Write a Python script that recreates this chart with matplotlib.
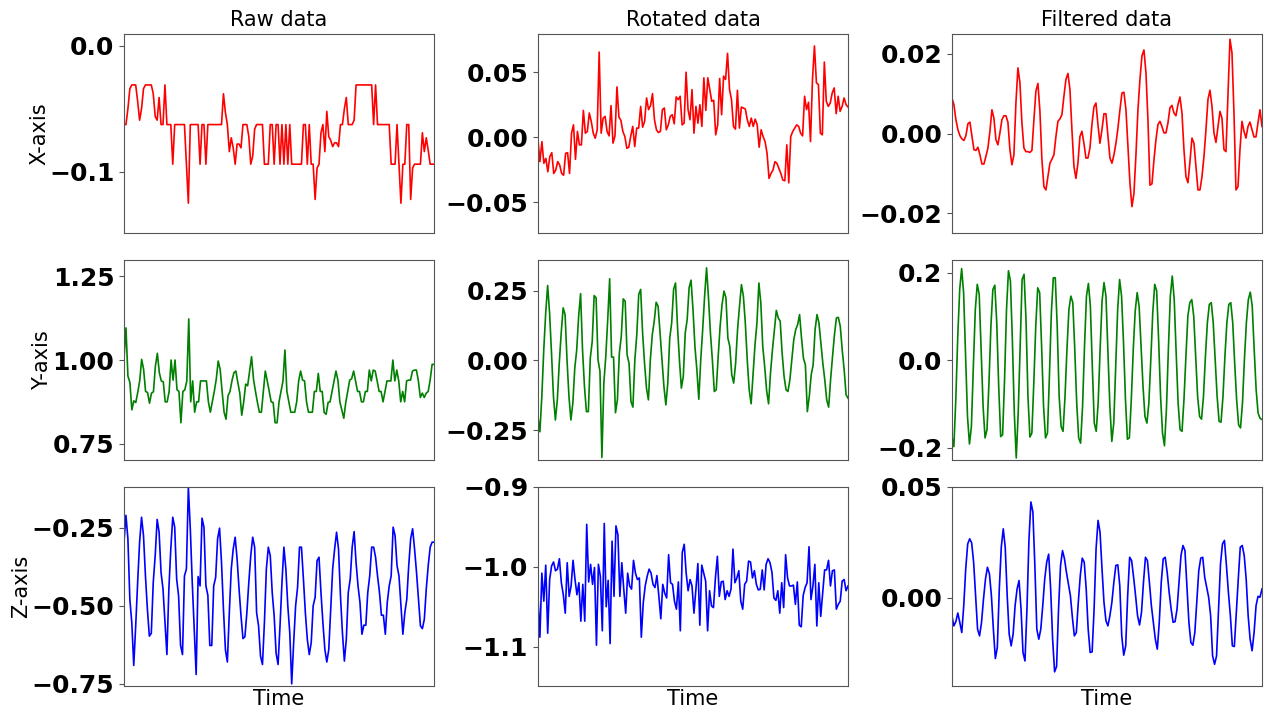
import matplotlib
matplotlib.use('Agg')
import matplotlib.pyplot as plt
import numpy as np

col_titles = ["Raw data", "Rotated data", "Filtered data"]
row_labels = ["X-axis", "Y-axis", "Z-axis"]
line_colors = ["red", "green", "blue"]

raw_x = [-0.0625, -0.0625, -0.05, -0.034, -0.031, -0.031, -0.031, -0.044, -0.059, -0.05,
         -0.034, -0.031, -0.031, -0.031, -0.031, -0.038, -0.056, -0.059, -0.041, -0.0625,
         -0.0625, -0.031, -0.0625, -0.0625, -0.0625, -0.094, -0.0625, -0.0625, -0.0625, -0.0625,
         -0.0625, -0.0625, -0.094, -0.125, -0.0625, -0.0625, -0.0625, -0.0625, -0.0625, -0.094,
         -0.0625, -0.0625, -0.094, -0.0625, -0.0625, -0.0625, -0.0625, -0.0625, -0.0625, -0.0625,
         -0.0625, -0.038, -0.053, -0.0625, -0.084, -0.073, -0.081, -0.094, -0.078, -0.078,
         -0.081, -0.0625, -0.0625, -0.0625, -0.072, -0.094, -0.0875, -0.066, -0.0625, -0.0625,
         -0.0625, -0.0625, -0.094, -0.094, -0.094, -0.0625, -0.0625, -0.094, -0.0625, -0.0625,
         -0.094, -0.0625, -0.094, -0.0625, -0.094, -0.0625, -0.094, -0.094, -0.094, -0.094,
         -0.094, -0.094, -0.0625, -0.0625, -0.094, -0.0625, -0.094, -0.094, -0.122, -0.097,
         -0.094, -0.069, -0.0625, -0.084, -0.052, -0.072, -0.075, -0.08, -0.077, -0.077,
         -0.08, -0.0625, -0.0625, -0.05, -0.041, -0.0625, -0.0625, -0.0625, -0.059, -0.031,
         -0.031, -0.031, -0.031, -0.031, -0.031, -0.031, -0.031, -0.031, -0.0625, -0.031,
         -0.0625, -0.0625, -0.0625, -0.0625, -0.0625, -0.0625, -0.0625, -0.094, -0.094, -0.094,
         -0.0625, -0.094, -0.125, -0.094, -0.094, -0.0625, -0.0625, -0.122, -0.097, -0.094,
         -0.094, -0.094, -0.094, -0.069, -0.084, -0.073, -0.083, -0.094, -0.094, -0.094]

rot_x = [-0.002, -0.0188, -0.0034, -0.0201, -0.0163, -0.0266, -0.015, -0.0119, -0.0279, -0.0253,
         -0.0188, -0.0214, -0.0279, -0.0292, -0.0124, -0.0119, -0.0279, 0.0031, 0.0095, -0.017,
         0.0044, -0.0059, -0.0059, 0.0206, 0.0031, 0.0044, 0.0186, 0.0121, 0.0031, -0.0008,
         0.0057, 0.0655, 0.0031, 0.0147, 0.016, 0.0044, 0.001, 0.0243, -0.0046, 0.001,
         0.0387, 0.0155, 0.0129, 0.0044, 0.0005, -0.0085, -0.0077, 0.001, 0.0083, -0.0072,
         0.007, 0.007, 0.0237, 0.0077, 0.0121, 0.0302, 0.0212, 0.0243, 0.0335, 0.0134,
         0.0057, 0.0036, 0.0044, 0.0212, 0.0224, 0.0057, 0.0095, 0.016, 0.0173, 0.0103,
         0.031, 0.0289, 0.0315, 0.0095, 0.0108, 0.05, 0.0212, 0.0134, 0.0366, 0.0031,
         0.0237, 0.0108, 0.025, 0.0083, 0.0457, 0.0206, 0.0457, 0.0366, 0.0276, 0.0284,
         0.0018, 0.0095, 0.0452, 0.0173, 0.047, 0.0444, 0.0645, 0.0366, 0.0289, 0.0083,
         0.0062, 0.0361, 0.007, 0.0232, 0.0224, 0.0217, 0.0134, 0.0083, 0.0147, 0.0083,
         0.0139, 0.0095, -0.0077, 0.0057, 0.0005, -0.0034, -0.0124, -0.0317, -0.0279, -0.0253,
         -0.0188, -0.0201, -0.024, -0.0279, -0.033, -0.0335, -0.0059, -0.0351, 0.0005, 0.0044,
         0.007, 0.0095, 0.0083, 0.0031, 0.001, 0.0315, 0.0212, 0.0268, -0.0034, 0.0444,
         0.0702, 0.0418, 0.0405, 0.0031, 0.0018, 0.0578, 0.0276, 0.0237, 0.0263, 0.0341,
         0.0379, 0.0181, 0.0315, 0.0199, 0.0237, 0.0302, 0.025, 0.0232]

filt_x = [0.0090, 0.0073, 0.0035, 0.0010, -0.0005, -0.0013, -0.0017, -0.0005, 0.0025, 0.0029,
          -0.0005, -0.0040, -0.0042, -0.0034, -0.0053, -0.0076, -0.0076, -0.0057, -0.0036, 0.0006,
          0.0060, 0.0039, -0.0015, -0.0028, 0.0002, 0.0035, 0.0045, 0.0045, 0.0029, -0.0040,
          -0.0078, -0.0053, 0.0077, 0.0165, 0.0128, 0.0027, -0.0036, -0.0045, -0.0045, -0.0047,
          -0.0042, 0.0035, 0.0107, 0.0126, 0.0056, -0.0066, -0.0133, -0.0141, -0.0108, -0.0074,
          -0.0064, -0.0053, -0.0007, 0.0031, 0.0037, 0.0048, 0.0094, 0.0136, 0.0151, 0.0111,
          0.0010, -0.0082, -0.0112, -0.0074, -0.0007, 0.0006, -0.0024, -0.0061, -0.0061, -0.0036,
          0.0023, 0.0067, 0.0077, 0.0023, -0.0024, 0.0010, 0.0050, 0.0050, -0.0007, -0.0061,
          -0.0074, -0.0053, -0.0024, 0.0014, 0.0060, 0.0102, 0.0104, 0.0060, -0.0032, -0.0124,
          -0.0183, -0.0150, -0.0053, 0.0060, 0.0136, 0.0195, 0.0210, 0.0153, 0.0035, -0.0129,
          -0.0126, -0.0066, -0.0015, 0.0023, 0.0031, 0.0018, 0.0002, 0.0002, 0.0027, 0.0065,
          0.0071, 0.0052, 0.0045, 0.0073, 0.0092, 0.0052, -0.0040, -0.0108, -0.0123, -0.0070,
          -0.0011, -0.0024, -0.0082, -0.0141, -0.0141, -0.0108, -0.0057, 0.0010, 0.0086, 0.0109,
          0.0069, 0.0002, -0.0022, 0.0018, 0.0056, 0.0039, -0.0040, -0.0045, 0.0094, 0.0237,
          0.0203, 0.0052, -0.0141, -0.0133, -0.0040, 0.0031, 0.0006, -0.0011, 0.0018, 0.0029,
          0.0010, -0.0008, -0.0008, 0.0027, 0.0060, 0.0018]

raw_y = [1.002, 1.096, 0.952, 0.933, 0.851, 0.878, 0.873, 0.903, 0.9375, 1.002,
         0.972, 0.906, 0.903, 0.871, 0.901, 0.905, 0.982, 1.020, 0.962, 0.9375,
         0.935, 0.875, 0.875, 0.906, 1.0, 0.940, 1.0, 0.911, 0.906, 0.8125,
         0.906, 0.911, 0.9375, 1.123, 0.875, 0.9375, 0.844, 0.875, 0.875, 0.9375,
         0.9375, 0.9375, 0.9375, 0.875, 0.844, 0.875, 0.906, 0.942, 0.997, 0.972,
         0.906, 0.844, 0.823, 0.893, 0.906, 0.9375, 0.962, 0.967, 0.933, 0.901,
         0.835, 0.875, 0.928, 0.923, 0.967, 1.010, 0.942, 0.906, 0.873, 0.844,
         0.844, 0.906, 0.967, 0.9375, 0.906, 0.875, 0.873, 0.8125, 0.8125, 0.875,
         0.906, 0.9375, 1.030, 0.906, 0.875, 0.844, 0.844, 0.844, 0.875, 0.9375,
         0.967, 0.940, 0.9375, 0.875, 0.844, 0.844, 0.844, 0.906, 0.906, 0.960,
         0.906, 0.906, 0.843, 0.838, 0.873, 0.875, 0.906, 0.9375, 0.967, 0.940,
         0.875, 0.851, 0.826, 0.873, 0.906, 0.940, 0.944, 0.967, 0.9375, 0.906,
         0.906, 0.875, 0.875, 0.906, 0.906, 0.970, 0.9375, 0.970, 0.967, 0.9375,
         0.906, 0.906, 0.875, 0.906, 0.9375, 0.9375, 0.9375, 1.0, 0.9375, 0.970,
         0.9375, 0.875, 0.906, 0.875, 0.9375, 0.940, 0.940, 0.967, 0.970, 0.970,
         0.9375, 0.888, 0.901, 0.888, 0.901, 0.906, 0.940, 0.987, 0.987]

rot_y = [-0.201, -0.255, -0.129, 0.038, 0.170, 0.268, 0.170, 0.026, -0.129, -0.213,
         -0.141, -0.010, 0.098, 0.188, 0.164, 0.002, -0.129, -0.213, -0.153, -0.028,
         0.038, 0.158, 0.239, 0.038, -0.093, -0.183, -0.183, 0.008, 0.068, 0.232,
         0.224, 0.002, -0.039, -0.347, -0.081, 0.014, 0.146, 0.292, 0.012, 0.012,
         -0.187, -0.141, 0.026, 0.086, 0.220, 0.212, 0.020, -0.010, -0.147, -0.167,
         0.002, 0.092, 0.236, 0.254, 0.098, -0.010, -0.099, -0.141, 0.002, 0.092,
         0.140, 0.208, 0.194, 0.098, 0.002, -0.093, -0.159, -0.081, 0.080, 0.134,
         0.254, 0.277, 0.122, 0.002, -0.099, -0.057, 0.098, 0.146, 0.260, 0.287,
         0.182, 0.050, -0.033, -0.139, 0.002, 0.110, 0.230, 0.331, 0.224, 0.098,
         0.002, -0.111, -0.105, 0.014, 0.122, 0.200, 0.248, 0.224, 0.080, 0.050,
         -0.051, -0.081, -0.010, 0.110, 0.194, 0.271, 0.230, 0.134, 0.002, -0.105,
         -0.155, -0.051, 0.056, 0.134, 0.277, 0.206, 0.050, -0.022, -0.108, -0.155,
         -0.045, 0.038, 0.110, 0.179, 0.152, 0.140, 0.026, -0.057, -0.105, -0.111,
         -0.069, 0.002, 0.074, 0.110, 0.128, 0.164, 0.080, 0.008, -0.016, -0.183,
         -0.129, -0.051, -0.016, 0.110, 0.164, 0.134, 0.062, -0.010, -0.069, -0.141,
         -0.167, -0.069, 0.014, 0.092, 0.152, 0.154, 0.122, 0.038, -0.033, -0.123,
         -0.135]

filt_y = [-0.175, -0.198, -0.090, 0.055, 0.162, 0.210, 0.155, 0.009, -0.129, -0.192,
          -0.152, -0.014, 0.116, 0.174, 0.151, 0.025, -0.106, -0.178, -0.159, -0.052,
          0.078, 0.162, 0.172, 0.086, -0.060, -0.175, -0.171, -0.044, 0.116, 0.205,
          0.182, 0.047, -0.121, -0.224, -0.121, 0.032, 0.185, 0.197, 0.093, -0.083,
          -0.176, -0.167, -0.052, 0.078, 0.166, 0.155, 0.032, -0.106, -0.178, -0.167,
          -0.037, 0.109, 0.189, 0.189, 0.078, -0.083, -0.152, -0.163, -0.083, 0.025,
          0.116, 0.147, 0.132, 0.025, -0.098, -0.178, -0.190, -0.106, 0.032, 0.147,
          0.176, 0.124, -0.014, -0.144, -0.163, -0.098, 0.025, 0.136, 0.178, 0.147,
          0.017, -0.106, -0.186, -0.144, -0.014, 0.116, 0.185, 0.147, 0.040, -0.090,
          -0.181, -0.178, -0.090, 0.025, 0.113, 0.155, 0.124, 0.032, -0.060, -0.129,
          -0.144, -0.098, 0.002, 0.109, 0.174, 0.159, 0.047, -0.083, -0.167, -0.196,
          -0.113, 0.025, 0.147, 0.193, 0.139, 0.017, -0.098, -0.159, -0.163, -0.090,
          0.009, 0.101, 0.132, 0.139, 0.101, 0.009, -0.083, -0.129, -0.135, -0.083,
          0.009, 0.086, 0.128, 0.132, 0.086, 0.002, -0.083, -0.140, -0.142, -0.083,
          0.009, 0.086, 0.128, 0.132, 0.086, -0.006, -0.090, -0.148, -0.155, -0.098,
          0.002, 0.086, 0.139, 0.156, 0.124, 0.025, -0.067, -0.121, -0.133, -0.136]

raw_z = [-0.297, -0.211, -0.286, -0.480, -0.555, -0.692, -0.565, -0.426, -0.297, -0.217,
         -0.276, -0.405, -0.512, -0.598, -0.589, -0.426, -0.340, -0.224, -0.265, -0.394,
         -0.447, -0.555, -0.657, -0.447, -0.319, -0.217, -0.249, -0.415, -0.469, -0.628,
         -0.657, -0.405, -0.383, -0.120, -0.254, -0.426, -0.576, -0.721, -0.407, -0.437,
         -0.220, -0.249, -0.437, -0.467, -0.628, -0.628, -0.437, -0.410, -0.286, -0.252,
         -0.362, -0.512, -0.641, -0.681, -0.523, -0.383, -0.319, -0.281, -0.351, -0.447,
         -0.533, -0.606, -0.600, -0.523, -0.426, -0.340, -0.281, -0.313, -0.523, -0.565,
         -0.662, -0.689, -0.555, -0.383, -0.313, -0.340, -0.458, -0.533, -0.653, -0.689,
         -0.565, -0.426, -0.313, -0.383, -0.501, -0.587, -0.751, -0.619, -0.501, -0.442,
         -0.313, -0.313, -0.415, -0.523, -0.608, -0.657, -0.619, -0.501, -0.474, -0.356,
         -0.345, -0.458, -0.555, -0.641, -0.681, -0.641, -0.512, -0.383, -0.319, -0.265,
         -0.319, -0.469, -0.587, -0.678, -0.608, -0.458, -0.415, -0.313, -0.263, -0.362,
         -0.437, -0.490, -0.592, -0.563, -0.563, -0.458, -0.405, -0.313, -0.313, -0.345,
         -0.405, -0.458, -0.531, -0.531, -0.592, -0.490, -0.437, -0.405, -0.249, -0.276,
         -0.372, -0.405, -0.501, -0.592, -0.523, -0.480, -0.372, -0.286, -0.254, -0.319,
         -0.394, -0.480, -0.565, -0.574, -0.544, -0.447, -0.372, -0.313, -0.297, -0.297]

rot_z = [-1.037, -1.088, -1.008, -1.043, -0.998, -1.083, -1.016, -0.999, -0.994, -1.005,
         -1.003, -0.990, -1.020, -1.035, -1.058, -0.995, -1.037, -1.024, -0.992, -1.016,
         -1.035, -1.020, -1.068, -1.022, -1.068, -0.947, -1.019, -0.997, -1.022, -1.001,
         -1.098, -0.997, -1.012, -1.080, -0.946, -1.050, -1.017, -1.096, -0.968, -1.037,
         -0.949, -0.960, -1.037, -0.995, -1.028, -1.058, -1.008, -1.024, -1.028, -0.992,
         -1.008, -1.016, -1.014, -1.088, -1.045, -1.024, -1.012, -1.003, -1.008, -1.022,
         -1.026, -1.011, -1.037, -1.065, -1.022, -1.033, -1.039, -0.985, -1.020, -1.022,
         -1.043, -1.053, -1.019, -1.080, -0.982, -0.972, -1.008, -1.030, -1.016, -1.024,
         -1.058, -1.028, -0.996, -1.073, -0.998, -1.008, -1.018, -1.080, -1.030, -1.049,
         -1.051, -1.014, -0.987, -1.037, -1.019, -1.018, -1.041, -1.030, -1.037, -1.028,
         -0.978, -1.020, -1.014, -1.005, -1.043, -1.053, -1.022, -1.018, -0.993, -0.994,
         -1.014, -1.005, -1.022, -1.029, -1.028, -1.004, -1.029, -0.997, -0.990, -0.995,
         -1.007, -1.039, -1.042, -1.030, -1.058, -1.020, -1.051, -0.985, -1.014, -1.024,
         -1.024, -1.023, -1.047, -1.019, -1.073, -1.075, -1.036, -1.026, -1.020, -0.975,
         -1.041, -1.024, -0.997, -1.074, -1.020, -1.062, -1.033, -1.004, -1.004, -0.992,
         -1.024, -1.005, -1.004, -1.053, -1.047, -1.043, -1.018, -1.016, -1.030, -1.024]

filt_z = [-0.0081, -0.0127, -0.0108, -0.0069, -0.0111, -0.0157, -0.0036, 0.0130, 0.0242, 0.0265,
          0.0247, 0.0160, 0.0009, -0.0142, -0.0172, -0.0111, -0.0006, 0.0084, 0.0137, 0.0107,
          0.0009, -0.0142, -0.0274, -0.0224, 0.0039, 0.0227, 0.0310, 0.0227, 0.0009, -0.0164,
          -0.0217, -0.0164, -0.0036, 0.0039, 0.0077, -0.0051, -0.0247, -0.0285, -0.0051, 0.0258,
          0.0431, 0.0386, 0.0145, -0.0142, -0.0187, -0.0142, -0.0036, 0.0084, 0.0160, 0.0196,
          0.0039, -0.0187, -0.0334, -0.0310, -0.0051, 0.0145, 0.0212, 0.0175, 0.0114, 0.0062,
          0.0009, -0.0089, -0.0172, -0.0157, -0.0021, 0.0099, 0.0178, 0.0160, 0.0039, -0.0142,
          -0.0247, -0.0244, -0.0051, 0.0220, 0.0348, 0.0295, 0.0130, -0.0021, -0.0104, -0.0127,
          -0.0081, -0.0021, 0.0069, 0.0145, 0.0148, 0.0054, -0.0172, -0.0259, -0.0217, 0.0009,
          0.0182, 0.0167, 0.0092, 0.0009, -0.0081, -0.0123, -0.0066, 0.0069, 0.0182, 0.0167,
          0.0069, -0.0036, -0.0111, -0.0187, -0.0232, -0.0111, 0.0069, 0.0175, 0.0182, 0.0114,
          0.0024, -0.0051, -0.0111, -0.0108, -0.0051, 0.0069, 0.0190, 0.0235, 0.0212, 0.0054,
          -0.0111, -0.0202, -0.0214, -0.0157, -0.0021, 0.0122, 0.0178, 0.0182, 0.0092, 0.0047,
          0.0002, -0.0081, -0.0262, -0.0300, -0.0262, -0.0051, 0.0152, 0.0242, 0.0258, 0.0145,
          0.0024, -0.0081, -0.0217, -0.0220, -0.0066, 0.0084, 0.0227, 0.0235, 0.0190, 0.0084,
          -0.0081, -0.0187, -0.0239, -0.0157, -0.0036, 0.0006, 0.0002, 0.0039]

series = [[raw_x, rot_x, filt_x],
          [raw_y, rot_y, filt_y],
          [raw_z, rot_z, filt_z]]

y_limits = [[(-0.149, 0.0095), (-0.074, 0.0794), (-0.025, 0.025)],
            [(0.702, 1.298), (-0.355, 0.358), (-0.228, 0.229)],
            [(-0.758, -0.119), (-1.149, -0.9), (-0.0398, 0.05)]]
y_ticks = [[[-0.1, 0.0], [-0.05, 0.0, 0.05], [-0.02, 0.0, 0.02]],
           [[0.75, 1.0, 1.25], [-0.25, 0.0, 0.25], [-0.2, 0.0, 0.2]],
           [[-0.75, -0.5, -0.25], [-1.1, -1.0, -0.9], [0.0, 0.05]]]

fig, axes = plt.subplots(3, 3, figsize=(12.64, 7.08), dpi=100)
fig.subplots_adjust(left=0.0981, right=0.9984, top=0.952, bottom=0.031,
                    wspace=0.335, hspace=0.135)

for r in range(3):
    for c in range(3):
        ax = axes[r, c]
        y = np.asarray(series[r][c])
        x = np.arange(len(y))
        ax.plot(x, y, color=line_colors[r], linewidth=1.2)
        ax.set_xlim(0, len(y) - 1)
        ax.set_ylim(*y_limits[r][c])
        ax.set_yticks(y_ticks[r][c])
        ax.set_xticks([])
        ax.tick_params(axis='y', labelsize=18, colors='#555555', labelcolor='black')
        for lab in ax.get_yticklabels():
            lab.set_fontweight('bold')
        for sp in ax.spines.values():
            sp.set_color('#555555')
        if r == 0:
            ax.set_title(col_titles[c], fontsize=15)
        if c == 0:
            ax.set_ylabel(row_labels[r], fontsize=15, labelpad=0)
        if r == 2:
            ax.set_xlabel("Time", fontsize=15, labelpad=2)

fig.savefig("out.png", dpi=100)
